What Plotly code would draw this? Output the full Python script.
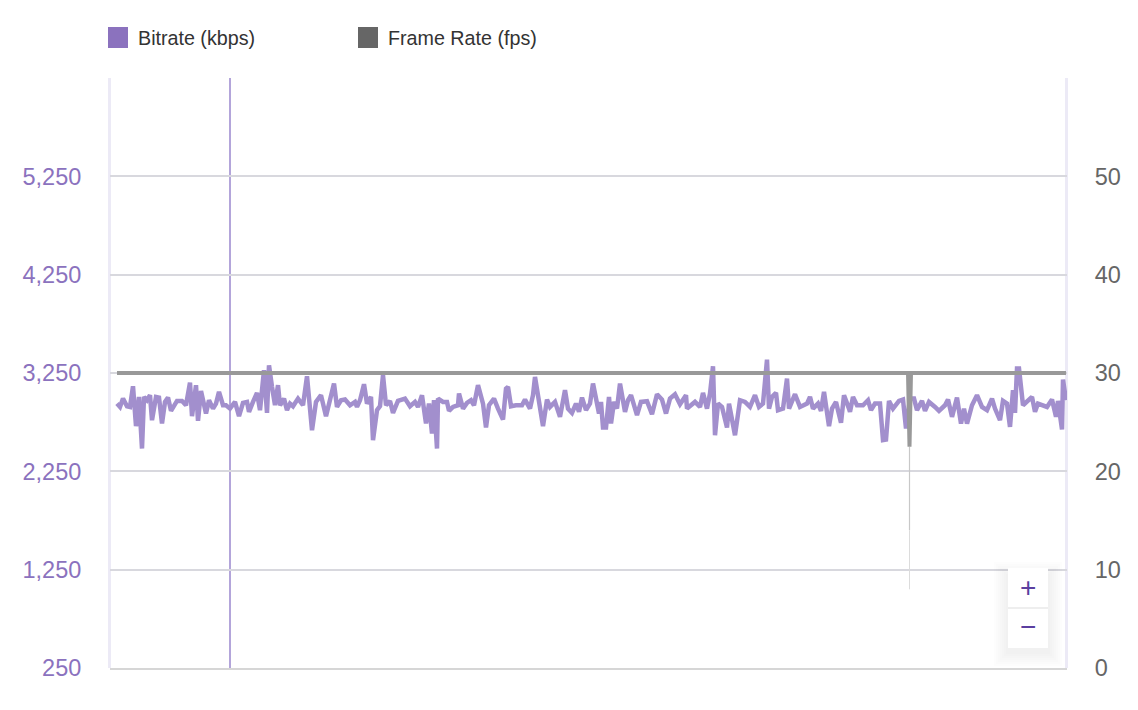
import plotly.graph_objects as go

# values
seconds = [
    0, 3, 6, 10, 13, 16, 19, 22, 25, 27, 30, 33, 35, 39, 42, 45, 48, 51, 54, 57, 60, 65, 69,
    73, 75, 79, 81, 84, 86, 89, 92, 96, 99, 102, 106, 109, 113, 118, 122, 126, 130, 132, 136,
    140, 143, 147, 150, 152, 155, 158, 161, 163, 167, 170, 173, 176, 181, 186, 190, 195, 199,
    204, 209, 212, 217, 220, 224, 228, 232,
    233, 238, 240, 243, 247, 250, 254, 256, 260, 263, 266, 269, 273, 276, 281, 288, 293, 298,
    301, 305, 309, 312, 315, 317, 320, 321, 326, 330, 332, 336, 341, 342, 346, 350, 354, 357,
    361, 366, 369, 372, 377, 381, 386, 389, 391, 394, 399, 405, 408, 413, 416, 418, 422, 426,
    430, 433, 438, 443, 448, 451, 455, 459, 462, 465, 469, 473, 476, 480, 482,
    484, 486, 489, 492, 494, 497, 500, 503, 508, 511, 514, 517, 520, 524, 530, 535, 540, 545,
    549, 553, 558, 563, 569, 570, 578, 583, 586, 590, 593, 596, 598, 601, 605, 610, 612, 618,
    623, 628, 633, 638, 642, 646, 650, 652, 655, 659, 661, 666, 670, 672, 678, 683, 690, 693,
    696, 701, 704, 707, 712, 715, 719, 724, 727, 732,
    733, 736, 740, 746, 751, 754, 758, 763, 766, 769, 772, 776, 782, 786, 789, 793, 797, 800,
    805, 808, 812, 818, 822, 828, 831, 835, 840, 844, 847, 850, 855, 860, 865, 870, 875, 878,
    883, 886, 890, 893, 896, 898, 900, 902, 906, 915, 918, 921, 930, 935, 939, 941, 945, 946,
    949,
]
bitrate = [
    2939, 2905, 2990, 2912, 2905, 3115, 2709, 3007, 2482, 3007, 2973, 3024, 2770, 3007, 3000,
    2736, 2956, 3000, 2865, 2922, 2966, 2966, 2922, 3153, 2811, 3126, 2763, 3068, 2973, 2838,
    2973, 2888, 2939, 3058, 2922, 2922, 2888, 2956, 2811, 2946, 2956, 2855, 2956, 3048, 2872,
    3278, 2844, 3329, 3109, 2922, 3126, 2922, 2990, 2872, 2939, 2912, 2990, 2922, 3217, 2668,
    2956, 3024, 2811, 2956, 3143, 2905, 2973, 2980, 2922,
    2922, 2956, 2905, 2973, 3136, 2939, 3007, 2567, 2872, 2912, 3227, 2922, 2966, 2844, 2966,
    2990, 2912, 2956, 2905, 3024, 2736, 2939, 2634, 2973, 2482, 2990, 2956, 2956, 2865, 2905,
    2922, 3041, 2888, 2946, 2973, 2922, 3126, 2939, 2695, 2922, 2990, 2888, 2777, 3092, 3109,
    2912, 2922, 2922, 2980, 2888, 3024, 3210, 2973, 2709, 2980, 2905, 2956, 2804, 3075, 2888,
    2844, 2939, 2855, 3000, 2872, 2939, 3143, 2956, 2838,
    2956, 2695, 2695, 3007, 2736, 2956, 2888, 3143, 2855, 2973, 3024, 2939, 2821, 2956, 2963,
    2831, 3034, 2980, 2838, 2990, 3034, 2932, 3024, 2888, 2956, 2905, 3048, 2888, 3041, 3319,
    2617, 2939, 2905, 2695, 2939, 2617, 2973, 2956, 2905, 3024, 2905, 2939, 3386, 2888, 3007,
    3048, 2872, 2888, 3193, 2888, 3034, 2905, 2939, 3007, 2888, 2939, 2865, 3058, 2709, 2888,
    2956, 2743, 3024, 2888,
    2855, 3007, 2922, 2922, 2973, 2872, 2939, 2939, 2567, 2573, 2966, 2888, 2966, 2980, 2685,
    2990, 2990, 2872, 2966, 2865, 2956, 2905, 2865, 2922, 2980, 2804, 3000, 2736, 2888, 2736,
    2922, 3024, 2905, 2872, 2990, 2888, 2770, 2966, 2939, 2702, 3075, 2844, 3295, 3295, 2922,
    3007, 2855, 2939, 2905, 2980, 2804, 2966, 2675, 3183, 2973,
]
fps_seconds = [0, 791, 792.5, 794, 949]
frame_rate = [30, 30, 22.5, 30, 30]
# the dip fades out below the thick part
spike_seconds = [792.5, 792.5]
spike_upper = [22.5, 14]
spike_lower = [14, 8]
cursor_second = 113

bitrate_ticks = [250, 1250, 2250, 3250, 4250, 5250]
bitrate_labels = ["250", "1,250", "2,250", "3,250", "4,250", "5,250"]
fps_ticks = [0, 10, 20, 30, 40, 50]

W, H = 1138, 710
L, R, T, B = 110, 1067, 78, 668
PURPLE = "#8B72BE"
GRAY = "#666666"
FONT = "Liberation Sans"


def px(x):
    return (x - L) / (R - L)


def py(y):
    return (B - y) / (B - T)


fig = go.Figure()
fig.add_trace(go.Scatter(x=seconds, y=bitrate, name="Bitrate (kbps)", mode="lines",
                         line=dict(color="#A28FCD", width=4.5), yaxis="y"))
fig.add_trace(go.Scatter(x=spike_seconds, y=spike_upper, mode="lines", hoverinfo="skip",
                         line=dict(color="#C8C8C8", width=1.2), yaxis="y2"))
fig.add_trace(go.Scatter(x=spike_seconds, y=spike_lower, mode="lines", hoverinfo="skip",
                         line=dict(color="#DCDCDC", width=1), yaxis="y2"))
fig.add_trace(go.Scatter(x=fps_seconds, y=frame_rate, name="Frame Rate (fps)", mode="lines",
                         line=dict(color="#999999", width=4), yaxis="y2"))

shapes = [
    dict(type="line", xref="x", yref="paper", x0=cursor_second, x1=cursor_second, y0=0, y1=1,
         line=dict(color="#B3A5DA", width=2), layer="below"),
    dict(type="rect", xref="paper", yref="paper", x0=px(108), x1=px(128), y0=py(48), y1=py(27),
         fillcolor=PURPLE, line_width=0),
    dict(type="rect", xref="paper", yref="paper", x0=px(358), x1=px(378), y0=py(48), y1=py(27),
         fillcolor=GRAY, line_width=0),
    # side bands of the plot area
    dict(type="rect", xref="paper", yref="paper", x0=px(108), x1=px(111), y0=0, y1=1,
         fillcolor="#ECEAF6", line_width=0, layer="below"),
    dict(type="rect", xref="paper", yref="paper", x0=px(1065), x1=px(1068), y0=0, y1=1,
         fillcolor="#ECEAF6", line_width=0, layer="below"),
]
# soft shadow of the zoom buttons
for grow in range(14, 0, -2):
    shapes.append(dict(type="rect", xref="paper", yref="paper",
                       x0=px(1008 - grow), x1=px(1048 + grow),
                       y0=py(648 + grow + 4), y1=py(568 - grow + 8),
                       fillcolor="rgba(0,0,0,0.009)", line_width=0))
shapes.append(dict(type="rect", xref="paper", yref="paper", x0=px(1008), x1=px(1048),
                   y0=py(648), y1=py(568), fillcolor="white", line_width=0))
shapes.append(dict(type="line", xref="paper", yref="paper", x0=px(1008), x1=px(1048),
                   y0=py(608), y1=py(608), line=dict(color="#EEEEEE", width=2)))

annotations = [
    dict(text="Bitrate (kbps)", x=px(136), y=py(38), xanchor="left"),
    dict(text="Frame Rate (fps)", x=px(386), y=py(38), xanchor="left"),
]
for a in annotations:
    a.update(xref="paper", yref="paper", showarrow=False, yanchor="middle",
             font=dict(family=FONT, size=19.7, color="#333333"))
for label, y in [("+", 587), ("\u2212", 626)]:
    annotations.append(dict(text=label, x=px(1028), y=py(y), xref="paper", yref="paper",
                            showarrow=False, xanchor="center", yanchor="middle",
                            font=dict(family=FONT, size=28, color="#5B3FA0")))

fig.update_layout(
    width=W, height=H, autosize=False,
    margin=dict(l=L, r=W - R, t=T, b=H - B, pad=0),
    paper_bgcolor="white", plot_bgcolor="white",
    showlegend=False, shapes=shapes, annotations=annotations,
    font=dict(family=FONT),
    xaxis=dict(range=[-7, 950], showgrid=False, zeroline=False, showticklabels=False,
               showline=True, linecolor="#D6D6D6", linewidth=2, ticks=""),
    yaxis=dict(range=[250, 6250], tickvals=bitrate_ticks, ticktext=bitrate_labels,
               showgrid=True, gridcolor="#D8D8DE", gridwidth=2, zeroline=False,
               showline=False,
               ticks="outside", ticklen=23, tickcolor="rgba(0,0,0,0)",
               tickfont=dict(family=FONT, size=23.5, color=PURPLE)),
    yaxis2=dict(range=[0, 60], tickvals=fps_ticks, overlaying="y", side="right",
                showgrid=False, zeroline=False,
                showline=False,
                ticks="outside", ticklen=22, tickcolor="rgba(0,0,0,0)",
                tickfont=dict(family=FONT, size=23.5, color=GRAY)),
)

fig.write_html("out.html", config=dict(displayModeBar=False),
               post_script="document.body.style.margin='0';document.body.style.overflow='hidden';")
